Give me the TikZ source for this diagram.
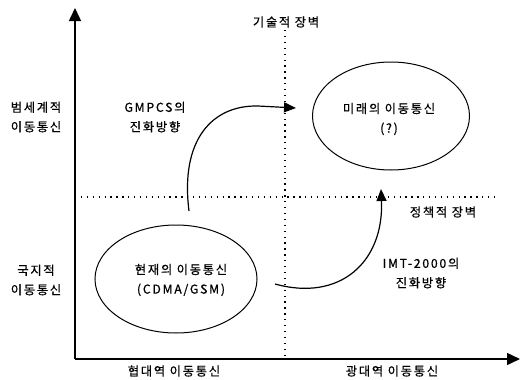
\documentclass[tikz,border=0pt]{standalone}
\usepackage{fontspec}
\setmainfont{Noto Sans CJK KR}[LetterSpace=14,FakeBold=0.6]
\usetikzlibrary{arrows.meta,shapes.geometric}
\begin{document}
\begin{tikzpicture}[x=1pt,y=-1pt,
  lbl/.style={font=\fontsize{12.3}{19.5}\selectfont, align=center, inner sep=0pt},
  axisline/.style={line width=1.5pt, -{Triangle[length=13pt,width=12pt]}},
  barrier/.style={line width=1.3pt, dash pattern=on 1.3pt off 4.6pt},
  blob/.style={ellipse, draw, line width=1pt, inner sep=0pt},
  evol/.style={line width=1.2pt, -{Triangle[length=12pt,width=10pt]}}]
\useasboundingbox (0,0) rectangle (520,380);
% axes
\coordinate (o) at (75,359);
\coordinate (ytop) at (75,8);
\coordinate (xend) at (520,359);
\draw[axisline] (o) -- (ytop);
\draw[axisline] (o) -- (xend);
% barriers
\coordinate (v1) at (285,30);
\coordinate (v2) at (285,359);
\coordinate (h1) at (75,197);
\coordinate (h2) at (494,197);
\draw[barrier] (v1) -- (v2);
\draw[barrier] (h1) -- (h2);
% ellipses
\node[blob, minimum width=162pt, minimum height=108pt] (cur) at (176,279) {};
\node[blob, minimum width=157pt, minimum height=108pt] (fut) at (391,116) {};
\node[lbl] (curt) at (181,280) {현재의 이동통신\\(CDMA/GSM)};
\node[lbl] (futt) at (389,119) {미래의 이동통신\\(?)};
% axis labels
\node[lbl] (glob) at (36,117) {범세계적\\이동통신};
\node[lbl] (loc) at (36,280) {국지적\\이동통신};
\node[lbl] (narrow) at (174,371) {협대역 이동통신};
\node[lbl] (wide) at (392,371) {광대역 이동통신};
\node[lbl] (tech) at (286,22) {기술적 장벽};
\node[lbl] (pol) at (443,212) {정책적 장벽};
% evolution arrows
\node[lbl] (gm) at (155,117) {GMPCS의\\진화방향};
\node[lbl] (imt) at (421,273) {IMT-2000의\\진화방향};
\coordinate (g0) at (189,211);
\coordinate (g1) at (296,108);
\draw[evol] (g0) .. controls (180,140) and (212,105) .. (258,106) -- (g1);
\coordinate (i0) at (275,284);
\coordinate (i1) at (381,189);
\draw[evol] (i0) .. controls (340,302) and (384,262) .. (i1);
\end{tikzpicture}
\end{document}
